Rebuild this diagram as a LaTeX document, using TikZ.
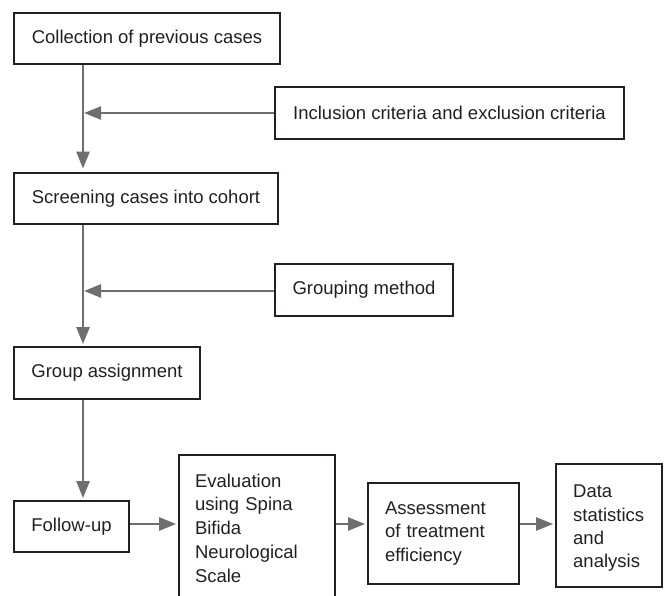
\documentclass[tikz,border=0pt]{standalone}
\usepackage{fontspec}
\setmainfont{Liberation Sans}
\usetikzlibrary{arrows.meta}
\definecolor{boxline}{HTML}{231F20}
\definecolor{arrowgray}{HTML}{6D6E71}
\definecolor{textcol}{HTML}{231F20}
\tikzset{
  box/.style={draw=boxline, line width=2.8bp, rectangle, inner sep=0bp, text=textcol,
    font=\fontsize{18.5bp}{24bp}\selectfont},
  mbox/.style={box, align=left, inner xsep=17bp,
    font=\fontsize{18.5bp}{23.8bp}\selectfont},
  txt/.style={inner sep=0bp, align=left, text=textcol, anchor=west,
    font=\fontsize{18.5bp}{23.3bp}\selectfont},
  arr/.style={draw=arrowgray, line width=2.5bp, -{Triangle[length=17bp,width=13bp]}, shorten >=1.5bp}
}
\begin{document}
\begin{tikzpicture}[x=1bp,y=-1bp]
\useasboundingbox (0,0) rectangle (665,596);
\node[box, minimum width=266bp, minimum height=51bp] (coll) at (147,38.5) {Collection of previous cases};
\node[box, minimum width=349bp, minimum height=52bp] (incl) at (449.5,113) {Inclusion criteria and exclusion criteria};
\node[box, minimum width=264bp, minimum height=51bp] (scr) at (146,198.5) {Screening cases into cohort};
\node[box, minimum width=178bp, minimum height=52bp] (gm) at (364,290) {Grouping method};
\node[box, minimum width=186bp, minimum height=52bp] (ga) at (107,373) {Group assignment};
\node[box, minimum width=115bp, minimum height=51bp] (fu) at (71.5,526.5) {Follow-up};
\node[mbox, text width=124bp, minimum height=146bp, inner xsep=16bp] (ev) at (257,528) {Evaluation\\using Spina\\Bifida\\Neurological\\Scale};
\node[mbox, text width=117bp, minimum height=101bp] (as) at (443.5,533.5) {Assessment\\of treatment\\efficiency};
\node[box, minimum width=106bp, minimum height=123bp] (da) at (609,525.5) {};
\node[txt, text width=80bp] (dat) at (573,528.5) {Data\\statistics\\and\\analysis};
\coordinate (j1) at (84,113);
\coordinate (j2) at (84,291);
\draw[arr, shorten >=3bp] (coll.south -| 83,0) -- (scr.north -| 83,0);
\draw[arr, shorten >=0bp] (incl.west) -- (j1);
\draw[arr] (scr.south -| 83,0) -- (ga.north -| 83,0);
\draw[arr, shorten >=0bp] (gm.west |- j2) -- (j2);
\draw[arr] (ga.south -| 83,0) -- (fu.north -| 83,0);
\draw[arr] (fu.east |- 0,524) -- (ev.west |- 0,524);
\draw[arr] (ev.east |- 0,524) -- (as.west |- 0,524);
\draw[arr] (as.east |- 0,524) -- (da.west |- 0,524);
\end{tikzpicture}
\end{document}
